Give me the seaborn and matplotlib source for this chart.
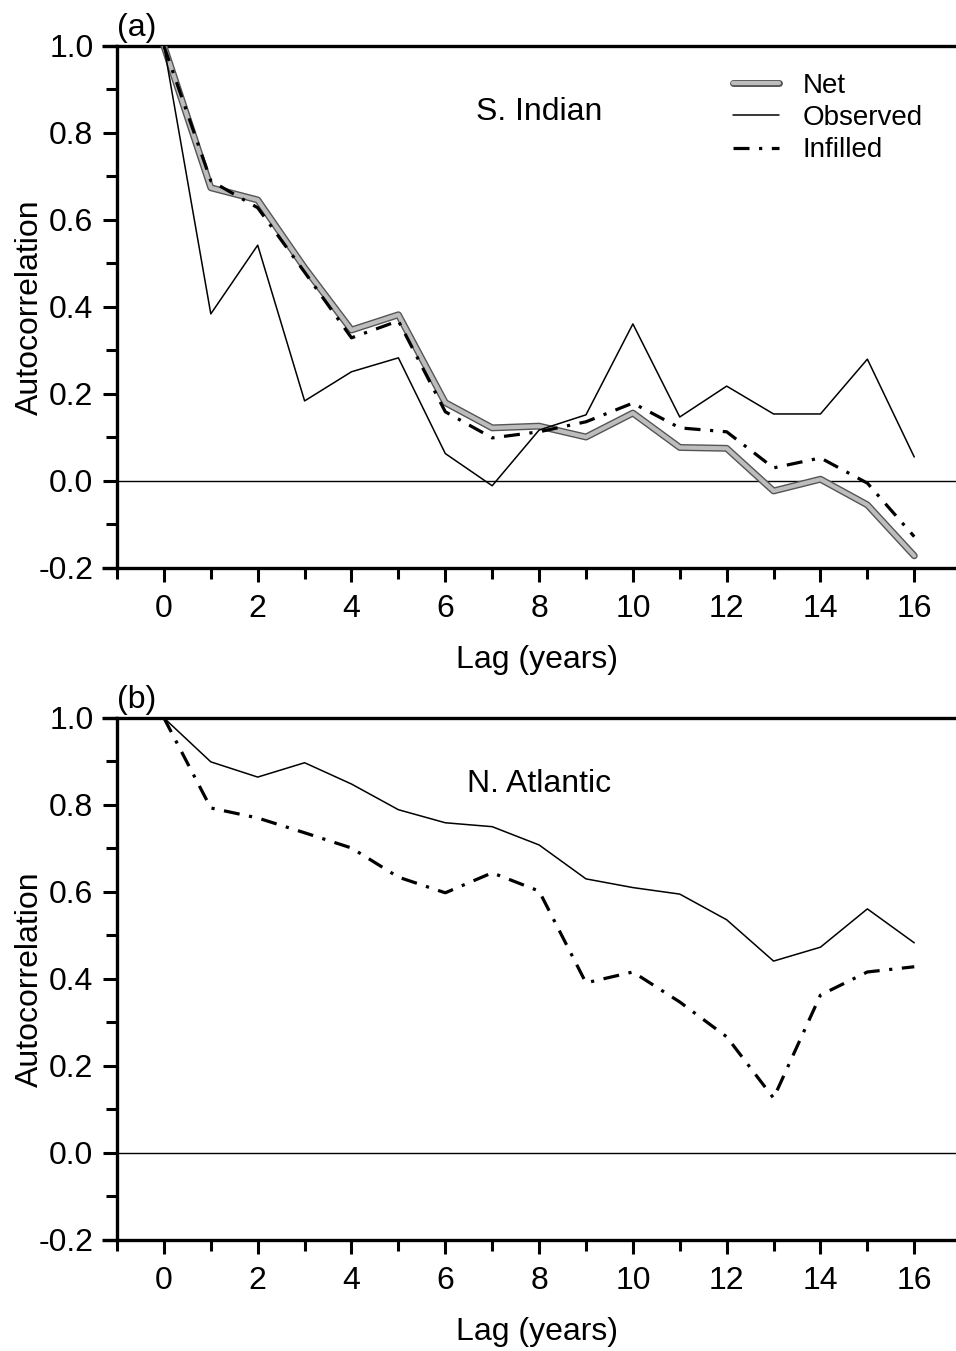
import matplotlib
matplotlib.use("Agg")
import matplotlib.pyplot as plt
import matplotlib.patheffects as pe
import seaborn as sns
import numpy as np

lags = list(range(17))

# Panel (a) S. Indian
a_net = [1.0, 0.674, 0.646, 0.49, 0.347, 0.382, 0.18, 0.122, 0.126, 0.101, 0.156,
         0.077, 0.075, -0.023, 0.004, -0.055, -0.172]
a_obs = [1.0, 0.384, 0.542, 0.184, 0.251, 0.283, 0.063, -0.011, 0.117, 0.152, 0.361,
         0.147, 0.218, 0.154, 0.154, 0.28, 0.055]
a_inf = [1.0, 0.69, 0.628, 0.48, 0.329, 0.368, 0.159, 0.099, 0.113, 0.136, 0.179,
         0.122, 0.113, 0.030, 0.053, -0.005, -0.128]

# Panel (b) N. Atlantic
b_obs = [1.0, 0.899, 0.864, 0.897, 0.848, 0.789, 0.759, 0.750, 0.708, 0.630, 0.610,
         0.595, 0.536, 0.441, 0.473, 0.561, 0.483]
b_inf = [1.0, 0.793, 0.770, 0.736, 0.701, 0.634, 0.598, 0.644, 0.602, 0.391, 0.416,
         0.347, 0.267, 0.126, 0.363, 0.416, 0.428]

panel_labels = ["(a)", "(b)"]
region_names = ["S. Indian", "N. Atlantic"]
yticks_major = [-0.2, 0.0, 0.2, 0.4, 0.6, 0.8, 1.0]
xticks_major = [0, 2, 4, 6, 8, 10, 12, 14, 16]

sns.set_style("ticks")
plt.rcParams["font.family"] = ["Liberation Sans", "DejaVu Sans"]
plt.rcParams["font.size"] = 23
plt.rcParams["text.color"] = "black"
plt.rcParams["axes.labelcolor"] = "black"
plt.rcParams["xtick.color"] = "black"
plt.rcParams["ytick.color"] = "black"
plt.rcParams["xtick.labelcolor"] = "black"
plt.rcParams["ytick.labelcolor"] = "black"

fig = plt.figure(figsize=(9.56, 13.51), dpi=100)
ax_a = fig.add_axes([0.1224, 0.5796, 1 - 0.1224, 0.3864])
ax_b = fig.add_axes([0.1224, 0.0822, 1 - 0.1224, 0.3864])

net_fx = [pe.Stroke(linewidth=5.0, foreground="#555555"), pe.Normal()]
dashdot = (0, (5, 3, 1, 3))


def style_axes(ax, plabel, region):
    ax.set_xlim(-1, 16.89)
    ax.set_ylim(-0.2, 1.0)
    ax.axhline(0, color="black", lw=1.0, zorder=1)
    ax.spines["right"].set_visible(False)
    for s in ["left", "top", "bottom"]:
        ax.spines[s].set_linewidth(2.4)
        ax.spines[s].set_color("black")
    # extend top/bottom spines left across the tick length
    for yy in (0, 1):
        ax.plot([-0.0175, 0], [yy, yy], transform=ax.transAxes, color="black",
                lw=2.4, clip_on=False, solid_capstyle="butt")
    ax.set_yticks(yticks_major)
    ax.set_yticklabels([f"{v:.1f}" for v in yticks_major])
    ax.set_yticks(np.arange(-0.1, 1.0, 0.2), minor=True)
    ax.set_xticks(xticks_major)
    ax.set_xticklabels([str(v) for v in xticks_major])
    ax.set_xticks(list(range(-1, 17, 2)), minor=True)
    ax.tick_params(axis="both", which="major", length=10, width=2.2, direction="out",
                   labelsize=23, color="black", labelcolor="black", pad=7)
    ax.tick_params(axis="both", which="minor", length=8, width=2.2, direction="out",
                   color="black")
    ax.tick_params(axis="x", which="major", pad=9)
    ax.set_xlabel("Lag (years)", fontsize=23, labelpad=15, color="black")
    ax.set_ylabel("Autocorrelation", fontsize=23, labelpad=-5, color="black")
    ax.text(0.0, 1.005, plabel, transform=ax.transAxes, fontsize=23,
            ha="left", va="bottom", color="black")
    ax.text(8.0, 0.848, region, fontsize=23, ha="center", va="center", color="black")


# Panel a
sns.lineplot(x=lags, y=a_net, ax=ax_a, color="#bdbdbd", lw=3.0, label="Net",
             path_effects=net_fx, zorder=3)
sns.lineplot(x=lags, y=a_obs, ax=ax_a, color="black", lw=1.1, label="Observed", zorder=4)
sns.lineplot(x=lags, y=a_inf, ax=ax_a, color="black", lw=2.3, linestyle=dashdot,
             label="Infilled", zorder=5)
style_axes(ax_a, panel_labels[0], region_names[0])
leg = ax_a.legend(loc="upper right", bbox_to_anchor=(0.98, 0.98), frameon=False,
                  fontsize=20, handlelength=1.65, handletextpad=0.85, labelspacing=0.22,
                  borderaxespad=0.2)
for t in leg.get_texts():
    t.set_color("black")

# Panel b
sns.lineplot(x=lags, y=b_obs, ax=ax_b, color="black", lw=1.1, zorder=4)
sns.lineplot(x=lags, y=b_inf, ax=ax_b, color="black", lw=2.3, linestyle=dashdot, zorder=5)
style_axes(ax_b, panel_labels[1], region_names[1])

fig.savefig("out.png", dpi=100)
